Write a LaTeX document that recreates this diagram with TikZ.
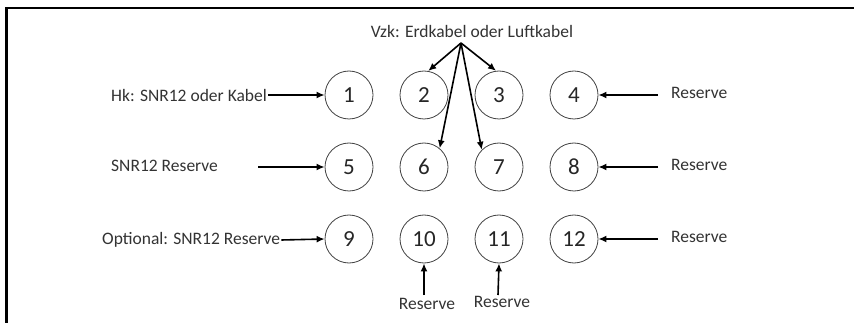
\documentclass[tikz,border=0pt]{standalone}
\usepackage{fontspec}
\setmainfont{Carlito}
\usetikzlibrary{arrows.meta}

\begin{document}
\begin{tikzpicture}[x=1pt,y=-1pt,
hole/.style={%
circle,
draw=black!75,
thick,
minimum size=48pt,
inner sep=0pt,
font=\fontsize{23}{25}\selectfont,
text=black!85,
},
lbl/.style={%
anchor=west,
inner sep=1pt,
font=\fontsize{17.5}{20}\selectfont,
text=black!80,
},
res/.style={%
anchor=north,
inner sep=1pt,
font=\fontsize{17.5}{20}\selectfont,
text=black!80,
},
arr/.style={%
-{Latex[length=8pt,width=7pt]},
line width=1.6pt,
},
]
\useasboundingbox (0,0) rectangle (854,323);
%% Frame
\draw[line width=2.5pt] (6.5,323)--(6.5,8)--(854,8);
%% Holes
\foreach \r in {0,1,2}{%
\foreach \c in {1,...,4}{%
\pgfmathtruncatemacro\n{\r*4+\c}
\node[hole]at(349+75*\c-75,95+72*\r)(h\n){\n};
}
}
%% Left side
\node[lbl]at(110,95)(hk){Hk: SNR12 oder Kabel};
\node[lbl]at(110,166)(snr){SNR12 Reserve};
\node[lbl]at(101,240)(opt){Optional: SNR12 Reserve};
\coordinate (s5) at (258,167);
\draw[arr] (hk.east)--(h1.west);
\draw[arr] (s5)--(h5.west);
\draw[arr] (opt.east)--(h9.west);
%% Right side
\foreach \r/\k in {0/4,1/8,2/12}{%
\coordinate (r\k) at (658,95+72*\r);
\node[lbl]at(670,93+72*\r)(rr\k){Reserve};
\draw[arr] (r\k)--(h\k.east);
}
%% Bottom
\coordinate (b10) at (424,295);
\coordinate (b11) at (498,295);
\draw[arr] (b10)--(h10.south);
\draw[arr] (b11)--(h11.south);
\node[res]at(427,297)(rb10){Reserve};
\node[res]at(502,295)(rb11){Reserve};
%% Vzk
\node[anchor=center,inner sep=1pt,font=\fontsize{17.5}{20}\selectfont,text=black!80]at(472,31)(vzk){Vzk: Erdkabel oder Luftkabel};
\coordinate (apex) at (461,43);
\draw[arr] (apex)--(h2.80);
\draw[arr] (apex)--(h3.97);
\draw[arr] (apex)--(h6.50);
\draw[arr] (apex)--(h7.135);
\end{tikzpicture}
\end{document}
